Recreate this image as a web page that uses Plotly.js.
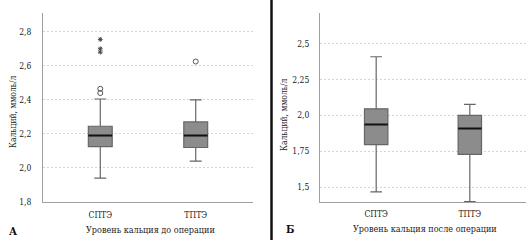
<!DOCTYPE html>
<html>
<head>
<meta charset="utf-8">
<script src="https://cdn.plot.ly/plotly-3.0.1.min.js"></script>
<style>html,body{margin:0;padding:0;background:#fff;}#chart{width:531px;height:243px;}</style>
</head>
<body>
<div id="chart"></div>
<script>
// ---- Data ----
const categories = ["СПТЭ", "ТПТЭ"];

// Panel A: calcium level before operation (mmol/l)
const preQ1 = [2.125, 2.12];
const preMedian = [2.19, 2.19];
const preQ3 = [2.245, 2.27];
const preLowerFence = [1.94, 2.04];
const preUpperFence = [2.405, 2.40];
const preOutlierCat = ["СПТЭ", "СПТЭ", "ТПТЭ"];
const preOutlierVal = [2.44, 2.465, 2.625];
const preExtremeCat = ["СПТЭ", "СПТЭ", "СПТЭ"];
const preExtremeVal = [2.68, 2.70, 2.755];

// Panel Б: calcium level after operation (mmol/l)
const postQ1 = [1.797, 1.729];
const postMedian = [1.937, 1.909];
const postQ3 = [2.046, 2.0];
const postLowerFence = [1.467, 1.40];
const postUpperFence = [2.409, 2.077];

// Tick labels
const preTickVals = [1.8, 2.0, 2.2, 2.4, 2.6, 2.8];
const preTickText = ["1,8", "2,0", "2,2", "2,4", "2,6", "2,8"];
const postTickVals = [1.5, 1.75, 2.0, 2.25, 2.5];
const postTickText = ["1,5", "1,75", "2,0", "2,25", "2,5"];

// Texts
const yTitle = "Кальций, ммоль/л";
const xTitleA = "Уровень кальция до операции";
const xTitleB = "Уровень кальция после операции";
const panelA = "А";
const panelB = "Б";

// ---- Styles ----
const FONT = "DejaVu Serif Condensed, DejaVu Serif";
const TXT = "#222";
const boxFill = "#8c8c8c";
const boxLine = "#666666";
const TS = 8.5;

function boxTrace(xa, ya, q1, med, q3, lo, hi) {
  return {
    type: "box", xaxis: xa, yaxis: ya, x: categories,
    q1: q1, median: med, q3: q3, lowerfence: lo, upperfence: hi,
    boxpoints: false, width: 0.25, whiskerwidth: 0.5,
    fillcolor: boxFill, line: {color: boxLine, width: 1.2},
    hoverinfo: "skip"
  };
}
function medianTrace(xa, ya, med) {
  return {
    type: "box", xaxis: xa, yaxis: ya, x: categories,
    q1: med, median: med, q3: med, lowerfence: med, upperfence: med,
    boxpoints: false, width: 0.25, whiskerwidth: 0,
    fillcolor: "rgba(0,0,0,0)", line: {color: "#111", width: 2},
    hoverinfo: "skip"
  };
}

const traces = [
  boxTrace("x", "y", preQ1, preMedian, preQ3, preLowerFence, preUpperFence),
  medianTrace("x", "y", preMedian),
  {
    type: "scatter", mode: "markers", xaxis: "x", yaxis: "y",
    x: preOutlierCat, y: preOutlierVal,
    marker: {symbol: "circle-open", size: 5, color: "#555", line: {width: 1, color: "#555"}},
    hoverinfo: "skip"
  },
  {
    type: "scatter", mode: "markers", xaxis: "x", yaxis: "y",
    x: preExtremeCat, y: preExtremeVal,
    marker: {symbol: "asterisk-open", size: 4, color: "#444", line: {width: 1, color: "#444"}},
    hoverinfo: "skip"
  },
  boxTrace("x2", "y2", postQ1, postMedian, postQ3, postLowerFence, postUpperFence),
  medianTrace("x2", "y2", postMedian)
];

const W = 531, H = 243;
function px(x) { return x / W; }
function py(y) { return 1 - y / H; }

const xCommon = {
  type: "category", categoryorder: "array", categoryarray: categories,
  showline: true, linecolor: "#a0a0a0", linewidth: 1,
  showgrid: false, zeroline: false, ticks: "", ticklabelstandoff: 5,
  tickfont: {family: FONT, size: TS, color: TXT}, fixedrange: true
};
const yCommon = {
  showline: true, linecolor: "#a0a0a0", linewidth: 1,
  showgrid: true, gridcolor: "#d4d4d4", griddash: "2px,2px", gridwidth: 1,
  zeroline: false, ticks: "", tickmode: "array",
  tickfont: {family: FONT, size: TS, color: TXT}, fixedrange: true
};

const layout = {
  width: W, height: H,
  margin: {l: 0, r: 0, t: 0, b: 0, pad: 0},
  paper_bgcolor: "#fff", plot_bgcolor: "#fff",
  showlegend: false, boxmode: "overlay",
  font: {family: FONT, size: TS, color: TXT},
  xaxis: Object.assign({}, xCommon, {domain: [px(43), px(253)], range: [-0.6, 1.6], anchor: "y"}),
  yaxis: Object.assign({}, yCommon, {domain: [py(202), py(13)], range: [1.8, 2.91], anchor: "x",
    tickvals: preTickVals, ticktext: preTickText, ticklabelstandoff: 9}),
  xaxis2: Object.assign({}, xCommon, {domain: [px(320), px(526)], range: [-0.6, 1.6], anchor: "y2", ticklabelstandoff: 4}),
  yaxis2: Object.assign({}, yCommon, {domain: [py(202), py(13)], range: [1.397, 2.714], anchor: "x2",
    tickvals: postTickVals, ticktext: postTickText, ticklabelstandoff: 8}),
  annotations: [
    {text: yTitle, xref: "paper", yref: "paper", x: px(13), y: py(112), textangle: -90,
     showarrow: false, xanchor: "center", yanchor: "middle", font: {family: FONT, size: TS, color: TXT}},
    {text: yTitle, xref: "paper", yref: "paper", x: px(284), y: py(115), textangle: -90,
     showarrow: false, xanchor: "center", yanchor: "middle", font: {family: FONT, size: TS, color: TXT}},
    {text: xTitleA, xref: "paper", yref: "paper", x: px(150), y: py(230),
     showarrow: false, xanchor: "center", yanchor: "middle", font: {family: FONT, size: 9, color: TXT}},
    {text: xTitleB, xref: "paper", yref: "paper", x: px(425), y: py(229),
     showarrow: false, xanchor: "center", yanchor: "middle", font: {family: FONT, size: 9, color: TXT}},
    {text: "<b>" + panelA + "</b>", xref: "paper", yref: "paper", x: px(13), y: py(231),
     showarrow: false, xanchor: "center", yanchor: "middle", font: {family: FONT, size: 11, color: "#111"}},
    {text: "<b>" + panelB + "</b>", xref: "paper", yref: "paper", x: px(290), y: py(229),
     showarrow: false, xanchor: "center", yanchor: "middle", font: {family: FONT, size: 11, color: "#111"}}
  ],
  shapes: [
    {type: "line", xref: "paper", yref: "paper", x0: px(271.5), x1: px(271.5), y0: py(0), y1: py(240),
     line: {color: "#111", width: 2.5}}
  ]
};

Plotly.newPlot("chart", traces, layout, {staticPlot: true, displayModeBar: false});
</script>
</body>
</html>
